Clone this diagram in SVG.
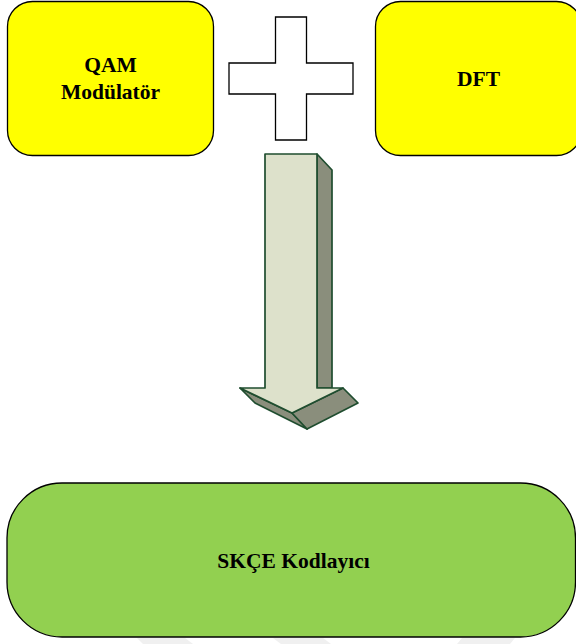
<svg xmlns="http://www.w3.org/2000/svg" width="576" height="644" viewBox="0 0 576 644">
<style>
.box{stroke:#000;stroke-width:1.3}
.t{font-family:"Liberation Serif","Times New Roman",serif;font-weight:bold;font-size:21.5px;fill:#000;text-anchor:middle}
.front{fill:#dde1cb;stroke:#1f4d2f;stroke-width:1.7;stroke-linejoin:round}
.side{fill:#8a8e7c;stroke:#1f4d2f;stroke-width:1.7;stroke-linejoin:round}
</style>
<g id="watermark" fill="#f0f0f0">
<polygon points="137,638 185,638 193,644 143,644"/>
<polygon points="273,638 323,638 331,644 281,644"/>
<polygon points="462,638 515,638 510,644 457,644"/>
</g>
<g id="qam">
<rect class="box" x="7.500" y="1.500" width="206" height="154" rx="25" fill="#ffff00"/>
<text class="t" x="110.500" y="72">QAM</text>
<text class="t" x="110.500" y="99">Modülatör</text>
</g>
<g id="plus">
<path class="box" fill="#fff" d="M275.500 17H306.500V63H353V94H306.500V140H275.500V94H229V63H275.500Z"/>
</g>
<g id="dft">
<rect class="box" x="375.500" y="1.500" width="206" height="154" rx="25" fill="#ffff00"/>
<text class="t" x="478.500" y="86">DFT</text>
</g>
<g id="connectors">
<path class="side" d="M317 154L332 170V388H317Z"/>
<path class="side" d="M240 388L255 403L307 429L292 413Z"/>
<path class="side" d="M292 413L307 429L358 403L343 388Z"/>
<path class="front" d="M265 154H317V388H343L292 413L240 388H265Z"/>
</g>
<g id="skce">
<rect class="box" x="7" y="483" width="568.500" height="154" rx="55" fill="#92d050"/>
<text class="t" x="293.500" y="568">SKÇE Kodlayıcı</text>
</g>
</svg>
